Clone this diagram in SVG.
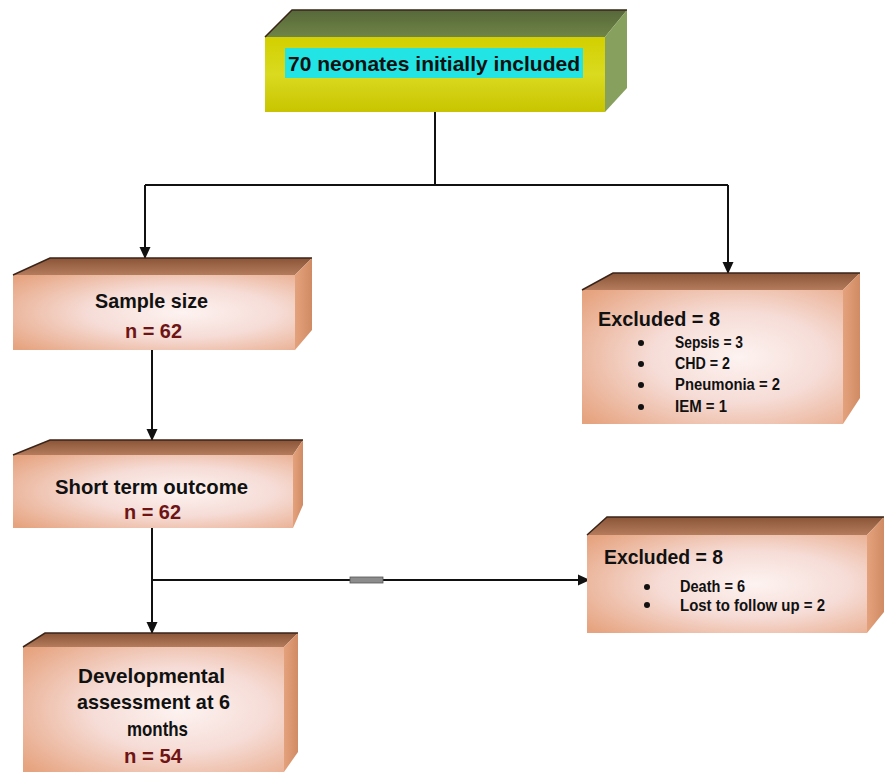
<svg xmlns="http://www.w3.org/2000/svg" width="888" height="775" viewBox="0 0 888 775">
<defs>
<radialGradient id="front" cx="0.6" cy="0.5" r="0.75">
<stop offset="0" stop-color="#fdf3f1"/>
<stop offset="0.45" stop-color="#f6dcd6"/>
<stop offset="1" stop-color="#e6a37f"/>
</radialGradient>
<linearGradient id="topf" x1="0" y1="0" x2="0" y2="1">
<stop offset="0" stop-color="#8a5438"/>
<stop offset="1" stop-color="#b47c5c"/>
</linearGradient>
<linearGradient id="sidef" x1="0" y1="0" x2="1" y2="0">
<stop offset="0" stop-color="#e4a27c"/>
<stop offset="1" stop-color="#d08b64"/>
</linearGradient>
<linearGradient id="yfront" x1="0" y1="0" x2="0" y2="1">
<stop offset="0" stop-color="#d2d000"/>
<stop offset="0.5" stop-color="#dada20"/>
<stop offset="1" stop-color="#c8c400"/>
</linearGradient>
<linearGradient id="ytop" x1="0" y1="0" x2="0" y2="1">
<stop offset="0" stop-color="#56683a"/>
<stop offset="1" stop-color="#6f8446"/>
</linearGradient>
<marker id="arr" viewBox="0 0 12 12" refX="11" refY="6" markerWidth="12" markerHeight="12" orient="auto" markerUnits="userSpaceOnUse">
<path d="M0,0.5 L12,6 L0,11.5 z" fill="#111"/>
</marker>
<style>
.h{font-family:"Liberation Sans",Arial,sans-serif;font-weight:bold;font-size:21px;fill:#111}
.r{font-family:"Liberation Sans",Arial,sans-serif;font-weight:bold;font-size:21px;fill:#6e1414}
.b{font-family:"Liberation Sans",Arial,sans-serif;font-weight:bold;font-size:16px;fill:#111}
.edge{stroke:#3a2418;stroke-width:1.5;fill:none}
.ln{stroke:#111;stroke-width:2;fill:none}
</style>
</defs>

<g id="connectors">
<path class="ln" d="M435,112 V185"/>
<path class="ln" d="M145,185 H728"/>
<path class="ln" d="M145,185 V258" marker-end="url(#arr)"/>
<path class="ln" d="M728,185 V273" marker-end="url(#arr)"/>
<path class="ln" d="M152,350 V440" marker-end="url(#arr)"/>
<path class="ln" d="M152,528 V633" marker-end="url(#arr)"/>
<path class="ln" d="M152,580 H589" marker-end="url(#arr)"/>
<rect x="350" y="577" width="33" height="6" fill="#8c8c8c" stroke="#555" stroke-width="0.8"/>
</g>

<g id="node-initial">
<polygon points="265,37 292,10 627,10 605,37" fill="url(#ytop)"/>
<polygon points="605,37 627,10 627,88 605,112" fill="#87a05e"/>
<rect x="265" y="37" width="340" height="75" fill="url(#yfront)"/>
<path class="edge" d="M265,37 L292,10 H627" stroke="#222"/>
<rect x="285" y="48" width="298" height="30" fill="#22e4e4"/>
<text class="h" x="288" y="71" textLength="292" lengthAdjust="spacingAndGlyphs">70 neonates initially included</text>
</g>

<g id="node-sample">
<polygon points="13,275 50,258 312,258 295,275" fill="url(#topf)"/>
<polygon points="295,275 312,258 312,330 295,350" fill="url(#sidef)"/>
<rect x="13" y="275" width="282" height="75" fill="url(#front)"/>
<path class="edge" d="M13,275 L50,258 H312"/>
<text class="h" x="95" y="308" textLength="113" lengthAdjust="spacingAndGlyphs">Sample size</text>
<text class="r" x="125" y="338" textLength="57" lengthAdjust="spacingAndGlyphs">n = 62</text>
</g>

<g id="node-excluded1">
<polygon points="582,290 613,273 860,273 843,290" fill="url(#topf)"/>
<polygon points="843,290 860,273 860,398 843,424" fill="url(#sidef)"/>
<rect x="582" y="290" width="261" height="134" fill="url(#front)"/>
<path class="edge" d="M582,290 L613,273 H860"/>
<text class="h" x="598" y="326" textLength="122" lengthAdjust="spacingAndGlyphs">Excluded = 8</text>
<g fill="#111">
<circle cx="641" cy="343" r="3"/>
<circle cx="641" cy="364" r="3"/>
<circle cx="641" cy="385" r="3"/>
<circle cx="641" cy="407" r="3"/>
</g>
<text class="b" x="675" y="348" textLength="68" lengthAdjust="spacingAndGlyphs">Sepsis = 3</text>
<text class="b" x="675" y="369" textLength="55" lengthAdjust="spacingAndGlyphs">CHD = 2</text>
<text class="b" x="675" y="390" textLength="105" lengthAdjust="spacingAndGlyphs">Pneumonia = 2</text>
<text class="b" x="675" y="412" textLength="52" lengthAdjust="spacingAndGlyphs">IEM = 1</text>
</g>

<g id="node-short">
<polygon points="13,455 50,440 303,440 293,455" fill="url(#topf)"/>
<polygon points="293,455 303,440 303,505 293,528" fill="url(#sidef)"/>
<rect x="13" y="455" width="280" height="73" fill="url(#front)"/>
<path class="edge" d="M13,455 L50,440 H303"/>
<text class="h" x="55" y="494" textLength="193" lengthAdjust="spacingAndGlyphs">Short term outcome</text>
<text class="r" x="124" y="519" textLength="57" lengthAdjust="spacingAndGlyphs">n = 62</text>
</g>

<g id="node-excluded2">
<polygon points="587,535 607,517 884,517 867,535" fill="url(#topf)"/>
<polygon points="867,535 884,517 884,612 867,633" fill="url(#sidef)"/>
<rect x="587" y="535" width="280" height="98" fill="url(#front)"/>
<path class="edge" d="M587,535 L607,517 H884"/>
<text class="h" x="604" y="564" textLength="119" lengthAdjust="spacingAndGlyphs">Excluded = 8</text>
<g fill="#111">
<circle cx="647" cy="587" r="3"/>
<circle cx="647" cy="605" r="3"/>
</g>
<text class="b" x="680" y="592" textLength="65" lengthAdjust="spacingAndGlyphs">Death = 6</text>
<text class="b" x="680" y="611" textLength="145" lengthAdjust="spacingAndGlyphs">Lost to follow up = 2</text>
</g>

<g id="node-developmental">
<polygon points="23,647 45,633 298,633 284,647" fill="url(#topf)"/>
<polygon points="284,647 298,633 298,752 284,772" fill="url(#sidef)"/>
<rect x="23" y="647" width="261" height="125" fill="url(#front)"/>
<path class="edge" d="M23,647 L45,633 H298"/>
<text class="h" x="78" y="683" textLength="147" lengthAdjust="spacingAndGlyphs">Developmental</text>
<text class="h" x="77" y="709" textLength="153" lengthAdjust="spacingAndGlyphs">assessment at 6</text>
<text class="h" x="127" y="736" textLength="61" lengthAdjust="spacingAndGlyphs">months</text>
<text class="r" x="124" y="763" textLength="58" lengthAdjust="spacingAndGlyphs">n = 54</text>
</g>
</svg>
